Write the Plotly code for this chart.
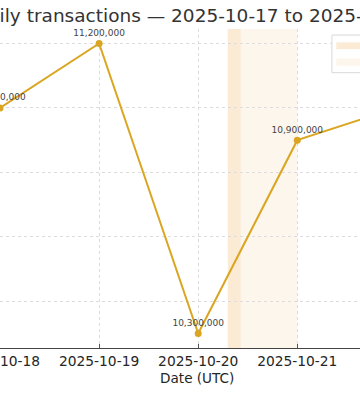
import plotly.graph_objects as go

# ---- data ----
dates = ["2025-10-18", "2025-10-19", "2025-10-20", "2025-10-21", "2025-10-22"]
values = [11000000, 11200000, 10300000, 10900000, 11000000]
value_labels = [f"{v:,}" for v in values]
tick_dates = ["2025-10-18", "2025-10-19", "2025-10-20", "2025-10-21", "2025-10-22"]
tick_labels = tick_dates
span_starts = ["2025-10-20 07:10", "2025-10-20 10:20"]
span_ends = ["2025-10-20 10:20", "2025-10-21 00:00"]
span_colors = ["#FBEBD4", "#FDF6EC"]
title_text = "Daily transactions — 2025-10-17 to 2025-10-23"
x_title = "Date (UTC)"

LINE = "#DAA520"
FONT = "DejaVu Sans"

fig = go.Figure()
fig.add_trace(go.Scatter(
    x=dates, y=values, mode="lines+markers+text",
    line=dict(color=LINE, width=2),
    marker=dict(color=LINE, size=7),
    text=value_labels, textposition="top center",
    textfont=dict(family=FONT, size=9, color="#444444"),
    showlegend=False, hoverinfo="skip",
))

for s, e, c in zip(span_starts, span_ends, span_colors):
    fig.add_shape(type="rect", xref="x", yref="paper", x0=s, x1=e, y0=0, y1=1,
                  fillcolor=c, line=dict(width=0), layer="below")

# legend box (partially off-canvas, as in the reference crop)
fig.add_shape(type="rect", xref="paper", yref="paper", x0=0.922, x1=1.4, y0=0.863, y1=0.981,
              fillcolor="rgba(255,255,255,0.85)", line=dict(color="#d8d8d8", width=1), layer="above")
fig.add_shape(type="rect", xref="paper", yref="paper", x0=0.934, x1=1.02, y0=0.937, y1=0.958,
              fillcolor=span_colors[0], line=dict(width=0), layer="above")
fig.add_shape(type="rect", xref="paper", yref="paper", x0=0.934, x1=1.02, y0=0.885, y1=0.908,
              fillcolor=span_colors[1], line=dict(width=0), layer="above")

fig.add_annotation(text=title_text, xref="paper", yref="paper", x=-28/360, y=1.0408,
                   xanchor="left", yanchor="middle", showarrow=False,
                   font=dict(family=FONT, size=18.5, color="#333333"))
fig.add_annotation(text=x_title, xref="paper", yref="paper", x=197/360, y=-0.094,
                   xanchor="center", yanchor="middle", showarrow=False,
                   font=dict(family=FONT, size=13.6, color="#262626"))

fig.update_layout(
    width=360, height=393,
    margin=dict(l=0, r=0, t=29, b=45, autoexpand=False),
    plot_bgcolor="white", paper_bgcolor="white",
    font=dict(family=FONT, color="#262626"),
    xaxis=dict(
        type="date", automargin=False,
        range=["2025-10-18 00:00", "2025-10-21 15:11"],
        tickvals=tick_dates, ticktext=tick_labels,
        ticklabeloverflow="allow",
        showgrid=True, gridcolor="#dcdcdc", griddash="dot", gridwidth=1,
        showline=True, linecolor="#444444", linewidth=1.2,
        ticks="inside", ticklen=3.5, tickcolor="#555555",
        tickfont=dict(family=FONT, size=13.8, color="#262626"),
        zeroline=False,
    ),
    yaxis=dict(
        automargin=False,
        range=[10255000, 11245000],
        tick0=0, dtick=200000,
        showgrid=True, gridcolor="#dcdcdc", griddash="dot", gridwidth=1,
        showticklabels=False, showline=False, zeroline=False, ticks="",
    ),
)

fig.write_html("out.html")
